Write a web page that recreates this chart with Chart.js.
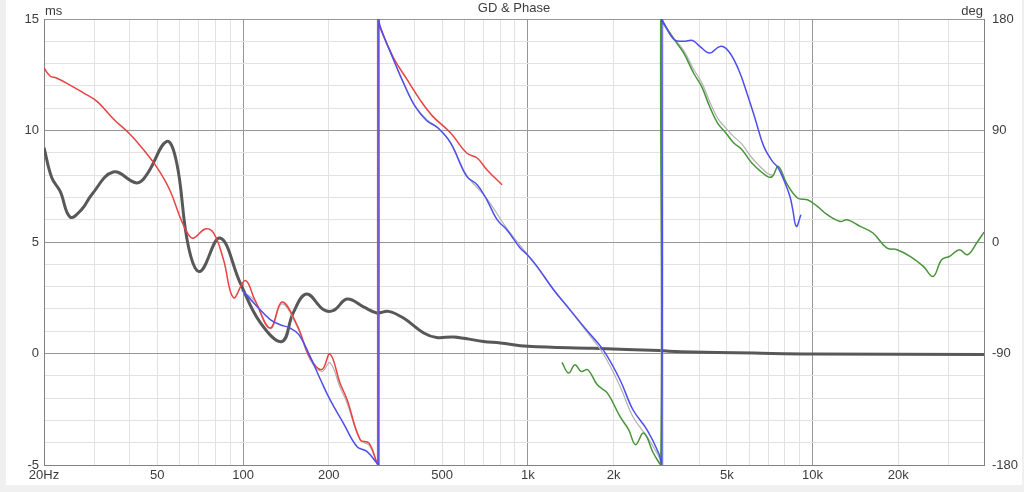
<!DOCTYPE html>
<html>
<head>
<meta charset="utf-8">
<title>GD & Phase</title>
<script src="https://cdn.jsdelivr.net/npm/chart.js@4/dist/chart.umd.min.js"></script>
<style>
    html, body { margin: 0; padding: 0; background: #f0f0f0; }
    #panel { position: absolute; left: 6px; top: 0; width: 1016px; height: 485px; background: #fff; }
    #wrap { position: absolute; left: 0; top: 0; width: 1024px; height: 492px; }
</style>
</head>
<body>
<div id="panel"></div>
<div id="wrap"><canvas id="gdPhase"></canvas></div>
<script>
// x axis (Hz) - grid positions and labels
const freqTicks = [20, 30, 40, 50, 60, 70, 80, 90, 100, 200, 300, 400, 500, 600, 700, 800, 900,
    1000, 2000, 3000, 4000, 5000, 6000, 7000, 8000, 9000, 10000, 20000, 30000, 40000];
const freqLabels = { 20: '20Hz', 50: '50', 100: '100', 200: '200', 500: '500', 1000: '1k',
    2000: '2k', 5000: '5k', 10000: '10k', 20000: '20k' };
const majorFreqs = [100, 1000, 10000];
const msLabels = [15, 10, 5, 0, -5];
const degLabels = [180, 90, 0, -90, -180];

// group delay, [Hz, ms]
const groupDelay = [[20, 9.23], [21.3, 7.88], [22.8, 7.27], [24.7, 6.12], [27.1, 6.45], [29.4, 7.12],
    [35, 8.14], [42.3, 7.65], [45.9, 8.02], [54, 9.51], [58.5, 8.54], [64.3, 4.8], [70.6, 3.68],
    [83, 5.18], [97.8, 3.16], [115, 1.38], [137, 0.54], [150, 1.82], [167, 2.67], [192, 1.96],
    [208, 1.93], [232, 2.44], [265, 2.09], [295, 1.82], [324, 1.89], [366, 1.59], [431, 0.92],
    [478, 0.72], [550, 0.74], [698, 0.54], [800, 0.47], [1000, 0.32], [1700, 0.23], [2900, 0.13],
    [3440, 0.08], [6220, 0.02], [10000, -0.02], [40000, -0.04]];

// phase traces, [Hz, deg] (the jumps -180 -> 180 are the wraps)
const redPhase = [[20, 140.4], [21, 134], [22.1, 132.4], [24, 128.3], [27.5, 120.3], [30.7, 113.5],
    [35, 99.5], [40.1, 87], [44.5, 75], [49.9, 60], [55.3, 42], [60.1, 20], [64.3, 6], [67.2, 3.2],
    [73.6, 10.5], [78.8, 7.3], [85.4, -14.3], [92.6, -45], [101.8, -31], [110, -46.6], [124.6, -69.4],
    [137, -48.4], [154.6, -66.8], [172, -93.6], [189, -103], [202, -90.4], [219, -113.8],
    [232, -127.3], [258, -159.6], [277, -162.3], [295, -178.4], [297, -180],
    [297, 180], [299, 176], [338, 148.5], [377, 131], [418, 114.9], [464, 101.4], [536, 88],
    [610, 71.8], [664, 67.8], [718, 58.4], [812, 46.2]];

const bluePhase = [[99, -38.5], [112, -52], [124.6, -62.7], [135, -66.8], [146, -69.4], [157, -74.8],
    [172, -92.3], [187, -111], [202, -127.3], [225, -146.1], [251, -165], [272, -169], [295, -178.4],
    [300, -180],
    [300, 180], [303, 174], [338, 147], [366, 128.3], [402, 109.4], [441, 98.1], [484, 92],
    [536, 79.9], [610, 53], [664, 46.2], [718, 34.1], [780, 18], [844, 9.9], [940, -4.8],
    [996, -10.3], [1078, -19.7], [1231, -38.5], [1406, -54.6], [1605, -70.8], [1838, -86.9],
    [2107, -111.2], [2340, -135.4], [2620, -151.5], [2880, -170.3], [2960, -180],
    [2960, 180], [3000, 177], [3270, 163.3], [3530, 162], [3790, 162.7], [4020, 157.9],
    [4350, 152.5], [4740, 157.9], [5080, 153.8], [5500, 139], [5880, 120.3], [6300, 98.7],
    [6740, 77.2], [7230, 65.1], [7580, 59.7], [7920, 50.3], [8330, 36.8], [8520, 26.1],
    [8770, 12.6], [9100, 22]];

const greenPhase = [[1318, -97.2], [1391, -105.8], [1464, -99.1], [1540, -104.5], [1626, -103.1],
    [1754, -115.3], [1904, -122], [2107, -140.8], [2260, -151.5], [2390, -163.6], [2552, -154.2],
    [2760, -170.3], [2930, -180],
    [2930, 180], [2980, 177], [3270, 163.3], [3530, 152.5], [3820, 136.4], [4076, 125.6],
    [4350, 109.4], [4640, 96], [4960, 88], [5290, 79.9], [5650, 74.5], [6120, 63.8], [6930, 53],
    [7230, 53], [7580, 61], [8100, 47.6], [8860, 35.5], [9600, 34.1], [10400, 28.7], [11260, 22],
    [12500, 16.6], [13240, 18], [14700, 12.6], [16300, 7.3], [18200, -4.8], [19800, -6.2],
    [22000, -11.6], [24500, -19.7], [26500, -27.8], [28400, -14.3], [30300, -11.6], [32800, -6.2],
    [35000, -10.3], [37900, 0], [40000, 8]];

const grayPhase = [[99, -39.5], [110, -47.5], [124.6, -70], [137, -50], [154.6, -68], [172, -95],
    [189, -104.5], [202, -97.5], [219, -117], [232, -130], [258, -160], [277, -164], [296, -178.5],
    [298, -180],
    [298, 180], [303, 174], [338, 147], [366, 129], [402, 110], [441, 99], [484, 92], [536, 80],
    [610, 54], [718, 35], [844, 11], [996, -10], [1231, -38], [1605, -72], [1838, -90],
    [2107, -116.5], [2340, -141], [2620, -157], [2880, -173], [2940, -180],
    [2940, 180], [2990, 177], [3270, 164], [3530, 154.5], [3820, 139.5], [4076, 129],
    [4350, 113.5], [4640, 100], [4960, 92], [5290, 85], [5650, 79], [6120, 68], [6930, 55.5],
    [7230, 54]];

const textColor = '#3c3c3c',
    minorGrid = 'rgb(226,226,226)',
    majorGrid = 'rgb(150,150,150)',
    frameColor = 'rgb(130,130,130)';

function toXY(pairs) {
    return pairs.map(p => ({ x: p[0], y: p[1] }));
}

function trace(label, pairs, color, width, axis, order) {
    return {
        label: label,
        data: toXY(pairs),
        yAxisID: axis,
        borderColor: color,
        borderWidth: width,
        pointRadius: 0,
        tension: 0.4,
        order: order
    };
}

const captions = {
    id: 'captions',
    afterDraw(chart) {
        const c = chart.ctx, area = chart.chartArea;
        c.save();
        c.fillStyle = textColor;
        c.font = '13px "Liberation Sans", Arial, sans-serif';
        c.textBaseline = 'middle';
        c.textAlign = 'center';
        c.fillText('GD & Phase', (area.left + area.right) / 2, 8);
        c.textAlign = 'left';
        c.fillText('ms', area.left + 1, 11);
        c.textAlign = 'right';
        c.fillText('deg', area.right - 1, 11);
        c.restore();
    }
};

var ctx = document.getElementById('gdPhase').getContext('2d');
var gdChart = new Chart(ctx, {
    type: 'line',
    data: {
        datasets: [
            trace('Phase 2', bluePhase, 'rgb(78,78,238)', 1.5, 'deg', 1),
            trace('Phase 3', greenPhase, 'rgb(72,148,58)', 1.5, 'deg', 2),
            trace('Phase 1', redPhase, 'rgb(232,66,66)', 1.5, 'deg', 3),
            trace('Phase sum', grayPhase, 'rgb(178,178,178)', 1.2, 'deg', 4),
            trace('GD', groupDelay, 'rgb(88,88,88)', 3, 'ms', 5)
        ]
    },
    options: {
        responsive: true,
        maintainAspectRatio: false,
        animation: false,
        layout: { padding: { top: 19, left: 0, right: 0, bottom: 0 } },
        plugins: {
            legend: { display: false },
            tooltip: { enabled: false }
        },
        scales: {
            x: {
                type: 'logarithmic',
                min: 20,
                max: 40000,
                afterBuildTicks: scale => {
                    scale.ticks = freqTicks.map(v => ({ value: v }));
                },
                afterFit: scale => { scale.height = 27; },
                ticks: {
                    autoSkip: false,
                    maxRotation: 0,
                    padding: 3,
                    color: textColor,
                    font: { family: '"Liberation Sans", Arial, sans-serif', size: 13 },
                    callback: value => freqLabels[value] || ''
                },
                grid: {
                    drawTicks: false,
                    color: c => majorFreqs.includes(c.tick && c.tick.value) ? majorGrid : minorGrid
                },
                border: { display: true, color: frameColor }
            },
            ms: {
                position: 'left',
                min: -5,
                max: 15,
                afterFit: scale => { scale.width = 44; },
                ticks: {
                    stepSize: 1,
                    padding: 5,
                    color: textColor,
                    font: { family: '"Liberation Sans", Arial, sans-serif', size: 13 },
                    callback: value => msLabels.includes(value) ? value : ''
                },
                grid: {
                    drawTicks: false,
                    color: c => msLabels.includes(c.tick && c.tick.value) ? majorGrid : minorGrid
                },
                border: { display: true, color: frameColor }
            },
            deg: {
                position: 'right',
                min: -180,
                max: 180,
                afterFit: scale => { scale.width = 40; },
                ticks: {
                    stepSize: 90,
                    padding: 8,
                    color: textColor,
                    font: { family: '"Liberation Sans", Arial, sans-serif', size: 13 },
                    callback: value => degLabels.includes(value) ? value : ''
                },
                grid: { drawOnChartArea: false, drawTicks: false },
                border: { display: true, color: frameColor }
            }
        }
    },
    plugins: [captions]
});
</script>
</body>
</html>
